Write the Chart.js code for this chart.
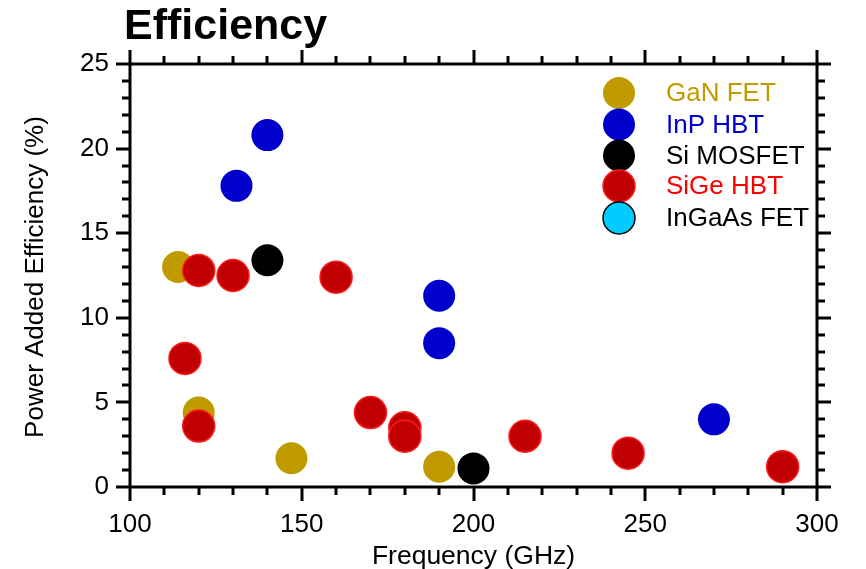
<!DOCTYPE html>
<html>
<head>
<meta charset="utf-8">
<script src="https://cdn.jsdelivr.net/npm/chart.js@4.4.1/dist/chart.umd.min.js"></script>
<style>
  html, body { margin: 0; padding: 0; background: #ffffff; }
  #wrap { width: 866px; height: 569px; position: relative; }
</style>
</head>
<body>
<div id="wrap"><canvas id="c" width="866" height="569"></canvas></div>
<script>
// ---- Data ----
const chartTitle = "Efficiency";
const xTitle = "Frequency (GHz)";
const yTitle = "Power Added Efficiency (%)";
const seriesNames = ["GaN FET", "InP HBT", "Si MOSFET", "SiGe HBT", "InGaAs FET"];

const ganX = [114, 120, 147, 190];
const ganY = [13.0, 4.4, 1.7, 1.2];

const inpX = [131, 140, 190, 190, 270];
const inpY = [17.8, 20.8, 11.3, 8.5, 4.0];

const siX = [140, 200];
const siY = [13.4, 1.1];

const sigeX = [120, 130, 160, 116, 120, 170, 180, 180, 215, 245, 290];
const sigeY = [12.8, 12.5, 12.4, 7.6, 3.6, 4.4, 3.5, 3.0, 3.0, 2.0, 1.2];

const ingaasX = [];
const ingaasY = [];

const xTickLabels = [100, 150, 200, 250, 300];
const yTickLabels = [0, 5, 10, 15, 20, 25];

function pts(xs, ys) { return xs.map((x, i) => ({ x: x, y: ys[i] })); }

const FONT = "'Liberation Sans', Arial, Helvetica, sans-serif";

const styles = [
  { fill: '#BF9B00', border: '#BF9B00', bw: 0, text: '#BF9B00' },
  { fill: '#0000CC', border: '#0000CC', bw: 0, text: '#0000CC' },
  { fill: '#000000', border: '#000000', bw: 0, text: '#000000' },
  { fill: '#C00000', border: '#FF1A1A', bw: 1.5, text: '#FF0000' },
  { fill: '#00CCFF', border: '#000000', bw: 1.5, text: '#000000' }
];
const seriesData = [pts(ganX, ganY), pts(inpX, inpY), pts(siX, siY), pts(sigeX, sigeY), pts(ingaasX, ingaasY)];
const drawOrder = [3, 4, 2, 0, 5];

const datasets = seriesNames.map((n, i) => ({
  label: n,
  data: seriesData[i],
  backgroundColor: styles[i].fill,
  borderColor: styles[i].border,
  borderWidth: styles[i].bw,
  pointRadius: 16,
  pointHoverRadius: 16,
  order: drawOrder[i],
  textColor: styles[i].text
}));

const decorPlugin = {
  id: 'decor',
  afterDraw(chart) {
    const ctx = chart.ctx;
    const a = chart.chartArea;
    const xs = chart.scales.x, ys = chart.scales.y;
    ctx.save();
    ctx.strokeStyle = '#000';
    ctx.lineWidth = 3;
    ctx.lineCap = 'butt';
    // axis box
    ctx.beginPath();
    ctx.moveTo(a.left, a.top); ctx.lineTo(a.right, a.top);
    ctx.moveTo(a.left, a.bottom); ctx.lineTo(a.right, a.bottom);
    ctx.moveTo(a.left, a.top); ctx.lineTo(a.left, a.bottom);
    ctx.moveTo(a.right, a.top); ctx.lineTo(a.right, a.bottom);
    ctx.stroke();
    // x ticks (bottom + top), outward
    xs.ticks.forEach(t => {
      const p = Math.round(xs.getPixelForValue(t.value));
      const len = (t.value % 50 === 0) ? 14 : 8;
      ctx.beginPath();
      ctx.moveTo(p, a.bottom); ctx.lineTo(p, a.bottom + len);
      ctx.moveTo(p, a.top); ctx.lineTo(p, a.top - len);
      ctx.stroke();
    });
    ys.ticks.forEach(t => {
      const p = Math.round(ys.getPixelForValue(t.value));
      const len = (t.value % 5 === 0) ? 14 : 8;
      ctx.beginPath();
      ctx.moveTo(a.left, p); ctx.lineTo(a.left - len, p);
      ctx.moveTo(a.right, p); ctx.lineTo(a.right + len, p);
      ctx.stroke();
    });
    // title
    ctx.fillStyle = '#000';
    ctx.font = 'bold 43px ' + FONT;
    ctx.textAlign = 'left';
    ctx.textBaseline = 'alphabetic';
    ctx.fillText(chartTitle, 124, 39);
    // axis titles
    ctx.font = '26.5px ' + FONT;
    ctx.textAlign = 'center';
    ctx.fillText(xTitle, (a.left + a.right) / 2, 564);
    ctx.save();
    ctx.font = '26px ' + FONT;
    ctx.translate(43, 277);
    ctx.rotate(-Math.PI / 2);
    ctx.fillText(yTitle, 0, 0);
    ctx.restore();
    // legend
    ctx.font = '26px ' + FONT;
    ctx.textAlign = 'left';
    ctx.textBaseline = 'middle';
    const legY = [93, 124.5, 155.5, 186, 218];
    chart.data.datasets.forEach((d, i) => {
      const cy = legY[i];
      ctx.beginPath();
      ctx.arc(619, cy, 16, 0, Math.PI * 2);
      ctx.fillStyle = d.backgroundColor;
      ctx.fill();
      if (d.borderWidth > 0) {
        ctx.lineWidth = d.borderWidth;
        ctx.strokeStyle = d.borderColor;
        ctx.stroke();
      }
      ctx.fillStyle = d.textColor;
      ctx.fillText(d.label, 666, cy + 1);
    });
    ctx.restore();
  }
};

new Chart(document.getElementById('c'), {
  type: 'scatter',
  data: { datasets: datasets },
  options: {
    responsive: false,
    animation: false,
    events: [],
    layout: { padding: { top: 64, right: 49, left: 0, bottom: 0 } },
    plugins: { legend: { display: false }, tooltip: { enabled: false }, title: { display: false } },
    scales: {
      x: {
        type: 'linear', position: 'bottom', min: 100, max: 300,
        afterFit: s => { s.height = 82; },
        border: { display: false },
        grid: { display: true, drawOnChartArea: false, drawTicks: true, tickLength: 14, color: 'rgba(0,0,0,0)' },
        ticks: {
          stepSize: 10, padding: 8, color: '#000', maxRotation: 0, autoSkip: false,
          font: { family: FONT, size: 26 },
          callback: v => (xTickLabels.includes(v) ? String(v) : '')
        }
      },
      y: {
        type: 'linear', position: 'left', min: 0, max: 25,
        afterFit: s => { s.width = 130; },
        border: { display: false },
        grid: { display: true, drawOnChartArea: false, drawTicks: true, tickLength: 14, color: 'rgba(0,0,0,0)' },
        ticks: {
          stepSize: 1, padding: 7, color: '#000', autoSkip: false,
          font: { family: FONT, size: 26 },
          callback: v => (yTickLabels.includes(v) ? String(v) : '')
        }
      }
    }
  },
  plugins: [decorPlugin]
});
</script>
</body>
</html>
